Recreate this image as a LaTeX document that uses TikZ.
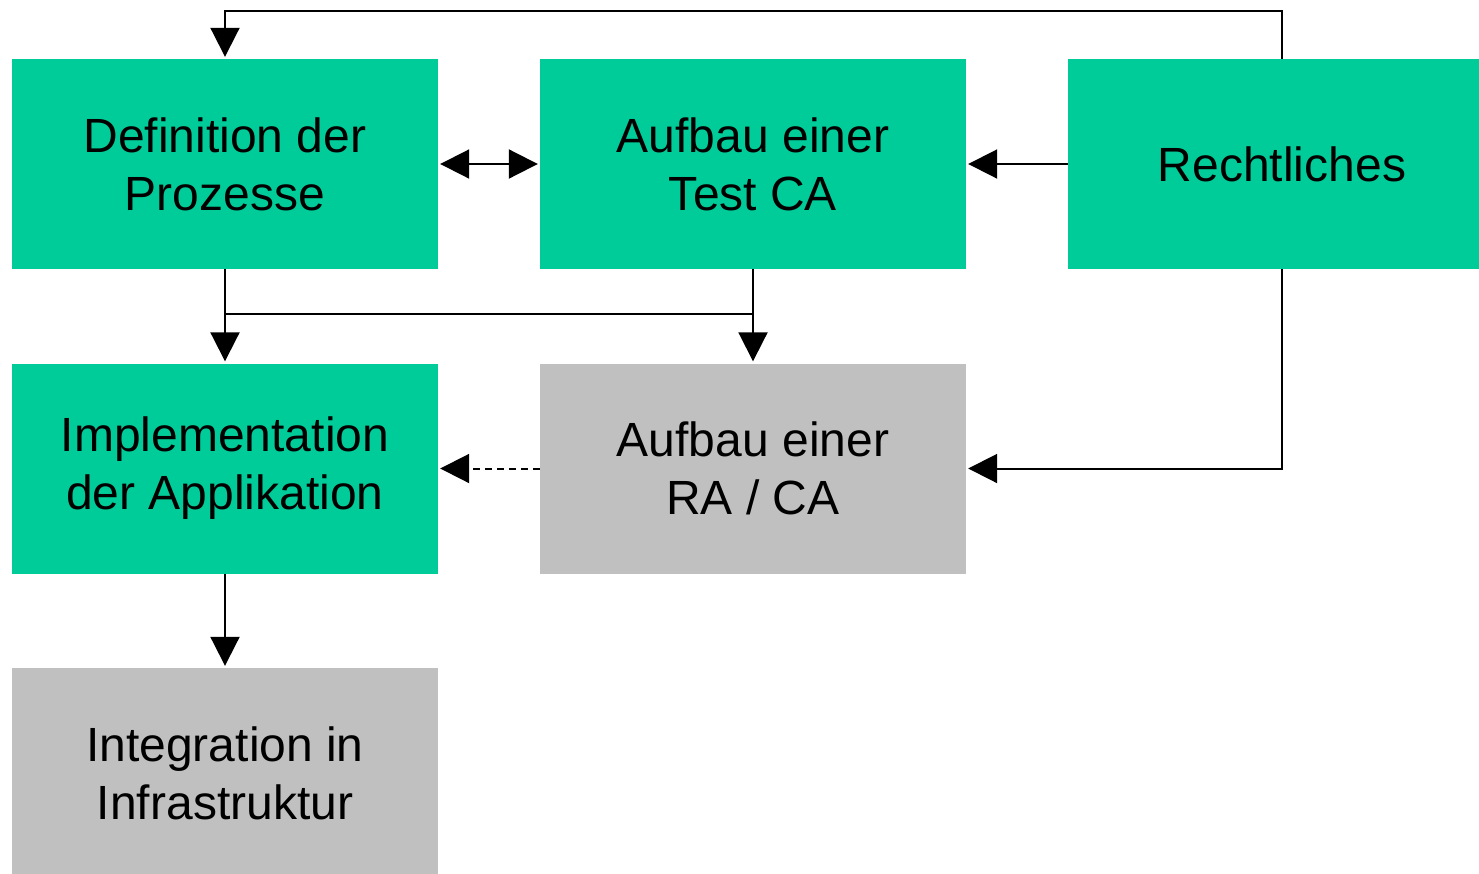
\documentclass[tikz,border=0pt]{standalone}
\usepackage{fontspec}
\setmainfont{Liberation Sans}
\usetikzlibrary{arrows.meta,calc}
\definecolor{boxgreen}{HTML}{00CC99}
\definecolor{boxgray}{HTML}{C0C0C0}
\tikzset{
  box/.style={rectangle, minimum width=426pt, minimum height=210pt, inner sep=0pt,
    align=center, font=\fontsize{48}{58}\selectfont},
  greenbox/.style={box, fill=boxgreen},
  graybox/.style={box, fill=boxgray},
  conn/.style={line width=2pt, black},
  arr/.style={conn, -{Triangle[length=29pt,width=29pt]}, shorten >=2pt},
}
\begin{document}
\begin{tikzpicture}[x=1pt, y=-1pt]
\useasboundingbox (0,0) rectangle (1479,873);
% process steps
\node[greenbox] (def)  at (225,164)   {Definition der\\Prozesse};
\node[greenbox] (test) at (753,164)   {Aufbau einer\\Test CA};
\node[greenbox, minimum width=428pt] (rech) at (1282,164) {Rechtliches};
\node[greenbox] (impl) at (225,468.5) {Implementation\\der Applikation};
\node[graybox]  (raca) at (753,468.5) {Aufbau einer\\RA / CA};
\node[graybox]  (integ) at (225,773)  {Integration in\\Infrastruktur};
% routing height of the feedback line
\coordinate (topline) at (0,11);
% connectors
\draw[arr] (rech.north) -- (rech.north |- topline) -| (def.north);
\draw[arr, {Triangle[length=29pt,width=29pt]}-{Triangle[length=29pt,width=29pt]}, shorten <=2pt] (def.east) -- (test.west);
\draw[arr] (rech.west) -- (test.east);
\draw[arr] (def.south) -- (impl.north);
\draw[arr] (test.south) -- (raca.north);
\draw[conn] ($(def.south)!0.48!(impl.north)$) -- ($(test.south)!0.48!(raca.north)$);
\draw[arr] (rech.south) |- (raca.east);
\draw[arr, dash pattern=on 7pt off 5pt] (raca.west) -- (impl.east);
\draw[arr] (impl.south) -- (integ.north);
\end{tikzpicture}
\end{document}
